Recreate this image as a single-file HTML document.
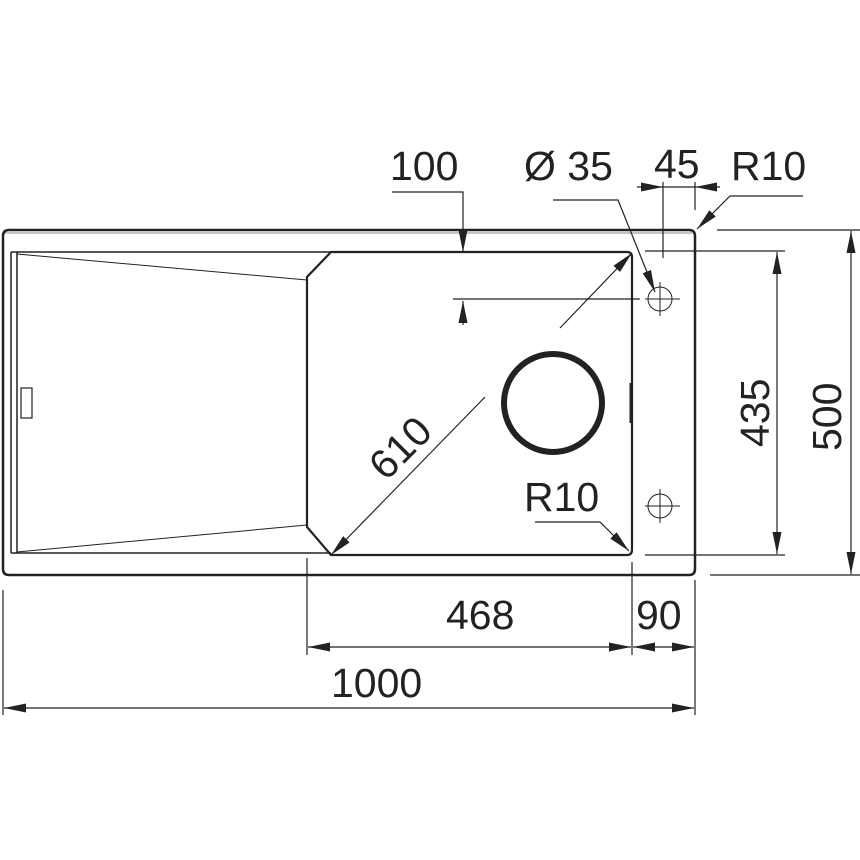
<!DOCTYPE html>
<html><head><meta charset="utf-8"><style>
html,body{margin:0;padding:0;background:#fff}
svg{display:block}
text{font-family:"Liberation Sans",Arial,sans-serif;font-size:41px;fill:#222}
</style></head><body>
<svg width="860" height="860" viewBox="0 0 860 860" xmlns="http://www.w3.org/2000/svg">
<defs>
<marker id="a" viewBox="0 0 22 9" refX="22" refY="4.5" markerWidth="22" markerHeight="9" markerUnits="userSpaceOnUse" orient="auto"><path d="M0,0 L22,4.5 L0,9 Z" fill="#222"/></marker>
</defs>
<g fill="none" stroke="#222">
<path d="M3,236 Q3,230 9,230 L689,230 Q695,230 695,236 L695,569 Q695,575 689,575 L9,575 Q3,575 3,569 Z" stroke-width="2.5"/>
<path d="M5,233 L692,233" stroke-width="1" stroke="#888"/>
<path d="M11,252 L331,252 M11,553 L331,553 M11,252 L11,553 M17,252 L17,553" stroke-width="1.5"/>
<path d="M17,254 L307,280 M17,552 L307,525" stroke-width="1"/>
<rect x="21" y="388" width="11" height="30" stroke-width="1.2"/>
<path d="M331,252 L627,252 Q632,252 632,257 L632,550 Q632,555 627,555 L331,555 L307,527 L307,277 Z" stroke-width="2.2"/>
<path d="M631,383 L631,423" stroke-width="3"/>
<circle cx="553" cy="403" r="49" stroke-width="6"/>
<circle cx="660" cy="299" r="12" stroke-width="1"/>
<path d="M645,299 L680,299 M660,282 L660,316" stroke-width="1"/>
<circle cx="660" cy="506" r="12" stroke-width="1"/>
<path d="M645,506 L680,506 M660,489 L660,523" stroke-width="1"/>
<g stroke-width="1.2">
<path d="M392,192 L463,192 L463,252" marker-end="url(#a)"/>
<path d="M453,299 L640,299"/>
<path d="M463,325 L463,301" marker-end="url(#a)"/>
<path d="M485,397 L331,555" marker-end="url(#a)"/>
<path d="M560,328 L632,253" marker-end="url(#a)"/>
<path d="M553,200 L618,200 L655,292" marker-end="url(#a)"/>
<path d="M637,187 L663,187" marker-end="url(#a)"/>
<path d="M720,187 L695,187" marker-end="url(#a)"/>
<path d="M663,187 L695,187"/>
<path d="M663,182 L663,258 M695,182 L695,210"/>
<path d="M803,196 L730,196 L697,229" marker-end="url(#a)"/>
<path d="M535,522 L600,522 L629,551" marker-end="url(#a)"/>
<path d="M645,251 L785,251 M645,555 L785,555"/>
<path d="M777,300 L777,252" marker-end="url(#a)"/>
<path d="M777,300 L777,554" marker-end="url(#a)"/>
<path d="M717,230 L860,230 M710,575 L860,575"/>
<path d="M851,400 L851,231" marker-end="url(#a)"/>
<path d="M851,400 L851,574" marker-end="url(#a)"/>
<path d="M307,558 L307,655 M632,562 L632,655 M695,580 L695,715 M3,590 L3,715"/>
<path d="M470,647 L308,647" marker-end="url(#a)"/>
<path d="M470,647 L631,647" marker-end="url(#a)"/>
<path d="M663,647 L633,647" marker-end="url(#a)"/>
<path d="M663,647 L694,647" marker-end="url(#a)"/>
<path d="M350,708 L4,708" marker-end="url(#a)"/>
<path d="M350,708 L694,708" marker-end="url(#a)"/>
</g>
</g>
<text x="390" y="180">100</text>
<text x="524" y="180">Ø 35</text>
<text x="654" y="178">45</text>
<text x="731" y="180">R10</text>
<text x="524" y="511">R10</text>
<text x="446" y="629">468</text>
<text x="636" y="629">90</text>
<text x="331" y="697">1000</text>
<text transform="translate(769,447) rotate(-90)">435</text>
<text transform="translate(841,451) rotate(-90)">500</text>
<text transform="translate(386,482) rotate(-45)">610</text>
</svg>
</body></html>
